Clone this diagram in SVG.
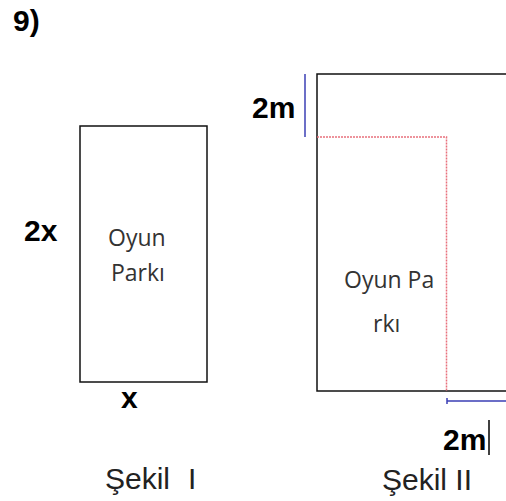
<svg xmlns="http://www.w3.org/2000/svg" width="506" height="501" viewBox="0 0 506 501">
<style>
.b{font-family:"Liberation Sans",Arial,sans-serif;font-weight:bold;font-size:30px;fill:#000}
.r{font-family:"Liberation Sans",Arial,sans-serif;font-size:30px;fill:#222}
.c{font-family:"Open Sans",sans-serif;font-size:23px;fill:#333}
.box{fill:#fff;stroke:#111;stroke-width:1.5}
.blue{stroke:#3b3fb5;stroke-width:1.5;fill:none}
.red{stroke:#e8707c;stroke-width:1.5;fill:none;stroke-dasharray:2 1}
</style>
<rect width="506" height="501" fill="#fff"/>
<text class="b" x="13" y="31">9)</text>
<g id="sekil1">
<rect class="box" x="80" y="126" width="127" height="256"/>
<text class="c" x="108" y="246">Oyun</text>
<text class="c" x="111" y="281">Parkı</text>
<text class="b" x="24" y="241">2x</text>
<text class="b" x="121" y="408">x</text>
<text class="r" x="105" y="489">Şekil<tspan x="188">I</tspan></text>
</g>
<g id="sekil2">
<rect class="box" x="317" y="74" width="210" height="317"/>
<text class="c" x="344" y="288">Oyun Pa</text>
<text class="c" x="373" y="332">rkı</text>
<text class="b" x="252" y="118">2m</text>
<text class="b" x="443" y="450">2m</text>
<text class="r" x="382" y="490">Şekil II</text>
</g>
<g id="connectors">
<path class="red" d="M317 137H446.5V391"/>
<path class="blue" d="M305 74V137"/>
<path class="blue" d="M447 401H506M447 398V404"/>
<path d="M489 420V455" stroke="#000" stroke-width="1.5"/>
</g>
</svg>
